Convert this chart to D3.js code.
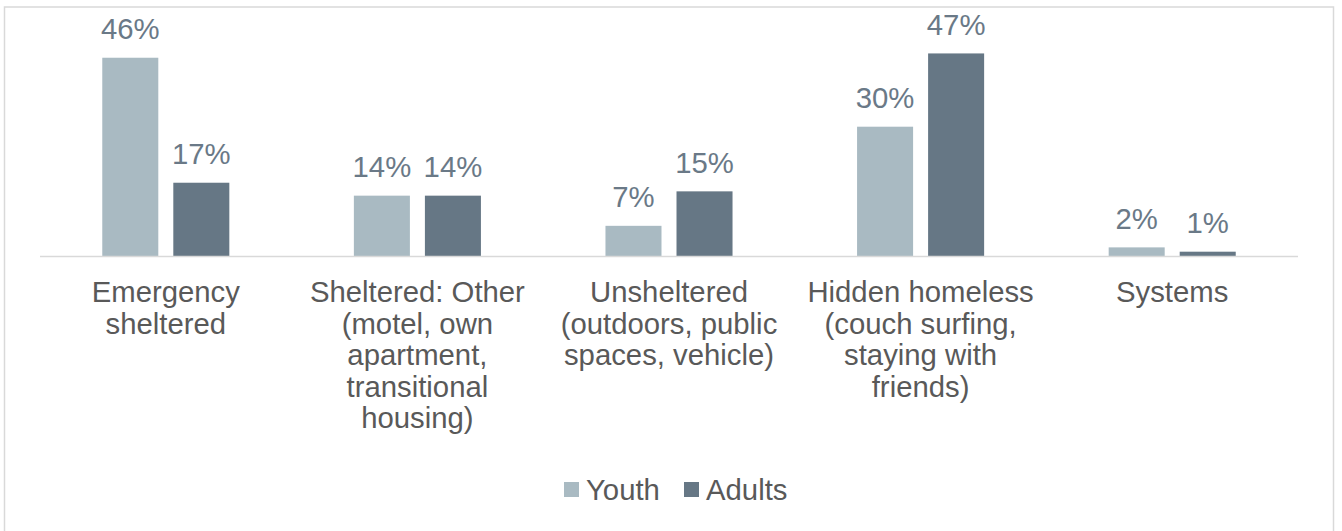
<!DOCTYPE html>
<html>
<head>
<meta charset="utf-8">
<script src="https://cdn.jsdelivr.net/npm/d3@7"></script>
<style>
  html, body { margin: 0; padding: 0; background: #ffffff; }
  svg { display: block; }
  text { font-family: "Liberation Sans", Arial, sans-serif; }
</style>
</head>
<body>
<svg id="chart" width="1342" height="531"></svg>
<script>
// Where people were staying, youth vs adults (share of each group)
const categories = [
  ["Emergency", "sheltered"],
  ["Sheltered: Other", "(motel, own", "apartment,", "transitional", "housing)"],
  ["Unsheltered", "(outdoors, public", "spaces, vehicle)"],
  ["Hidden homeless", "(couch surfing,", "staying with", "friends)"],
  ["Systems"]
];
const seriesNames = ["Youth", "Adults"];
const youthValues = [46, 14, 7, 30, 2];
const adultValues = [17, 14, 15, 47, 1];
const seriesColors = ["#A9BAC2", "#667785"];

const svg = d3.select("#chart");
const fontSize = 29.3;

// chart frame (bottom edge falls outside the visible area)
svg.append("rect")
  .attr("x", 4.5).attr("y", 7)
  .attr("width", 1329).attr("height", 540)
  .attr("fill", "#ffffff")
  .attr("stroke", "#D9D9D9")
  .attr("stroke-width", 1.5);

const plotLeft = 40, plotRight = 1298, baseY = 256;

const catIdx = categories.map((_, i) => i);
const x0 = d3.scaleBand()
  .domain(catIdx)
  .range([plotLeft, plotRight])
  .paddingInner(0.495)
  .paddingOuter(0.2475);

const x1 = d3.scaleBand()
  .domain(seriesNames)
  .range([0, x0.bandwidth()])
  .paddingInner(0.2113);

const y = d3.scaleLinear()
  .domain([0, 50])
  .range([baseY, baseY - 4.31 * 50]);

const rows = catIdx.map(i => ({
  i,
  values: [
    { s: "Youth", v: youthValues[i] },
    { s: "Adults", v: adultValues[i] }
  ]
}));

const groups = svg.append("g").selectAll("g")
  .data(rows)
  .join("g")
  .attr("transform", d => `translate(${x0(d.i)},0)`);

groups.selectAll("rect")
  .data(d => d.values)
  .join("rect")
  .attr("x", d => x1(d.s))
  .attr("y", d => y(d.v))
  .attr("width", x1.bandwidth())
  .attr("height", d => y(0) - y(d.v))
  .attr("fill", (d, j) => seriesColors[j]);

groups.selectAll("text.val")
  .data(d => d.values)
  .join("text")
  .attr("class", "val")
  .attr("x", d => x1(d.s) + x1.bandwidth() / 2)
  .attr("y", d => y(d.v) - 18.5)
  .attr("text-anchor", "middle")
  .attr("font-size", fontSize)
  .attr("fill", "#6A7987")
  .text(d => d.v + "%");

// category axis baseline
svg.append("line")
  .attr("x1", plotLeft).attr("x2", plotRight)
  .attr("y1", baseY + 0.5).attr("y2", baseY + 0.5)
  .attr("stroke", "#D9D9D9")
  .attr("stroke-width", 1.5);

// category labels, wrapped on several lines
const catLabels = svg.append("g").selectAll("text")
  .data(rows)
  .join("text")
  .attr("x", d => x0(d.i) + x0.bandwidth() / 2)
  .attr("y", 302)
  .attr("text-anchor", "middle")
  .attr("font-size", fontSize)
  .attr("fill", "#595959");

catLabels.selectAll("tspan")
  .data(d => categories[d.i])
  .join("tspan")
  .attr("x", function () { return d3.select(this.parentNode).attr("x"); })
  .attr("dy", (d, k) => k === 0 ? 0 : 31.5)
  .text(d => d);

// legend
const legend = svg.append("g");
const legendItems = [
  { name: seriesNames[0], color: seriesColors[0], sx: 564, tx: 586 },
  { name: seriesNames[1], color: seriesColors[1], sx: 684, tx: 706 }
];
legend.selectAll("rect")
  .data(legendItems)
  .join("rect")
  .attr("x", d => d.sx).attr("y", 482)
  .attr("width", 15).attr("height", 15)
  .attr("fill", d => d.color);
legend.selectAll("text")
  .data(legendItems)
  .join("text")
  .attr("x", d => d.tx)
  .attr("y", 500)
  .attr("font-size", fontSize)
  .attr("fill", "#595959")
  .text(d => d.name);
</script>
</body>
</html>
